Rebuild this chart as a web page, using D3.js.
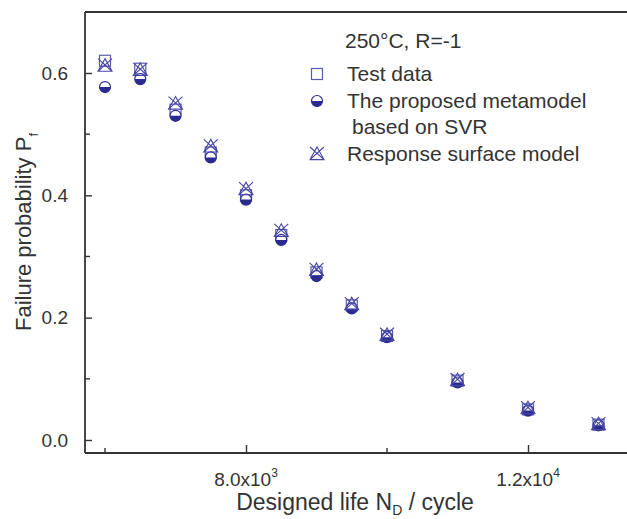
<!DOCTYPE html>
<html><head><meta charset="utf-8">
<script src="https://cdn.jsdelivr.net/npm/d3@7/dist/d3.min.js"></script>
<style>body{margin:0;background:#fff}svg{display:block}text{font-family:"Liberation Sans",Arial,sans-serif;fill:#333}</style>
</head><body><svg id="c" width="627" height="519"></svg>
<script>
const cycles = [6000, 6500, 7000, 7500, 8000, 8500, 9000, 9500, 10000, 11000, 12000, 13000];
const testData = [0.620, 0.607, 0.540, 0.470, 0.400, 0.335, 0.274, 0.220, 0.170, 0.097, 0.050, 0.025];
const svrModel = [0.577, 0.590, 0.530, 0.462, 0.393, 0.327, 0.268, 0.215, 0.168, 0.094, 0.048, 0.024];
const rsmModel = [0.612, 0.605, 0.550, 0.480, 0.410, 0.342, 0.278, 0.222, 0.172, 0.098, 0.052, 0.026];
const xTicks = [8000, 12000];
const xMinor = [6000, 10000];
const xTickLabels = ["8.0x10", "1.2x10"];
const xTickExp = ["3", "4"];
const yTicks = [0.0, 0.2, 0.4, 0.6];
const yMinor = [0.1, 0.3, 0.5];

const svg = d3.select("#c");
const L = 85, R = 640, T = 12, B = 453;
const x = d3.scaleLinear().domain([5716, 13000 + (640-598.5)/141*2000]).range([L, R]);
const y = d3.scaleLinear().domain([-0.0213, 0.6997]).range([B, T]);
const blue = "#2b2b8f";
const axCol = "#333";

// frame
svg.append("line").attr("x1", L).attr("x2", 627).attr("y1", T).attr("y2", T).attr("stroke", axCol).attr("stroke-width", 1.8);
svg.append("line").attr("x1", L).attr("x2", L).attr("y1", T).attr("y2", B).attr("stroke", axCol).attr("stroke-width", 1.8);
svg.append("line").attr("x1", L).attr("x2", 627).attr("y1", B).attr("y2", B).attr("stroke", axCol).attr("stroke-width", 1.8);

// y axis
const yAx = svg.append("g").attr("transform", `translate(${L},0)`)
  .call(d3.axisLeft(y).tickValues(yTicks).tickFormat(d3.format(".1f")).tickSize(-7).tickPadding(17));
yAx.select(".domain").remove();
yAx.selectAll("line").attr("stroke", axCol).attr("stroke-width", 1.4);
yAx.selectAll("text").attr("font-size", 19).style("fill", "#333");
svg.append("g").selectAll("line").data(yMinor).join("line")
  .attr("x1", L).attr("x2", L + 5).attr("y1", d => y(d)).attr("y2", d => y(d)).attr("stroke", axCol).attr("stroke-width", 1.4);

// x axis
const xAx = svg.append("g").attr("transform", `translate(0,${B})`)
  .call(d3.axisBottom(x).tickValues(xTicks).tickFormat("").tickSize(-8));
xAx.select(".domain").remove();
xAx.selectAll("line").attr("stroke", axCol).attr("stroke-width", 1.4);
svg.append("g").selectAll("line").data(xMinor).join("line")
  .attr("x1", d => x(d)).attr("x2", d => x(d)).attr("y1", B).attr("y2", B - 5).attr("stroke", axCol).attr("stroke-width", 1.4);
xTicks.forEach((t, i) => {
  const tx = svg.append("text").attr("x", x(t)).attr("y", 486).attr("text-anchor", "middle").attr("font-size", 19);
  tx.append("tspan").text(xTickLabels[i]);
  tx.append("tspan").attr("dy", -9).attr("font-size", 12).text(xTickExp[i]);
});

// axis titles
const xt = svg.append("text").attr("x", 355).attr("y", 510).attr("text-anchor", "middle").attr("font-size", 23);
xt.append("tspan").text("Designed life N");
xt.append("tspan").attr("dy", 5).attr("font-size", 14).text("D");
xt.append("tspan").attr("dy", -5).text(" / cycle");
const yt = svg.append("text").attr("transform", "translate(31,232) rotate(-90)").attr("text-anchor", "middle").attr("font-size", 22);
yt.append("tspan").text("Failure probability  P");
yt.append("tspan").attr("dy", 7).attr("font-size", 13).text("f");

// markers
function square(g, cx, cy) {
  g.append("rect").attr("x", cx - 5.5).attr("y", cy - 5.5).attr("width", 11).attr("height", 11)
    .attr("fill", "none").attr("stroke", "#5b5bab").attr("stroke-width", 1.2);
}
function halfCircle(g, cx, cy) {
  const r = 5.5;
  g.append("circle").attr("cx", cx).attr("cy", cy).attr("r", r).attr("fill", "#fff").attr("stroke", blue).attr("stroke-width", 1.2);
  g.append("path").attr("d", `M${cx - r},${cy} A${r},${r} 0 0 0 ${cx + r},${cy} Z`).attr("fill", blue);
}
function triX(g, cx, cy) {
  const s = 7;
  g.append("path").attr("d", `M${cx},${cy - s} L${cx + s},${cy + s * 0.8} L${cx - s},${cy + s * 0.8} Z M${cx - s},${cy - s} L${cx + s},${cy + s * 0.8} M${cx + s},${cy - s} L${cx - s},${cy + s * 0.8}`)
    .attr("fill", "none").attr("stroke", "#4545a5").attr("stroke-width", 1.1);
}

const gT = svg.append("g"), gS = svg.append("g"), gR = svg.append("g");
cycles.forEach((c, i) => {
  square(gT, x(c), y(testData[i]));
  halfCircle(gS, x(c), y(svrModel[i]));
  triX(gR, x(c), y(rsmModel[i]));
});

// legend
svg.append("text").attr("x", 345).attr("y", 48).attr("font-size", 21).text("250°C, R=-1");
square(svg, 317, 74);
svg.append("text").attr("x", 347).attr("y", 81).attr("font-size", 21).text("Test data");
halfCircle(svg, 317, 101);
svg.append("text").attr("x", 347).attr("y", 108).attr("font-size", 21).text("The proposed metamodel");
svg.append("text").attr("x", 352).attr("y", 134).attr("font-size", 21).text("based on SVR");
triX(svg, 317, 154);
svg.append("text").attr("x", 347).attr("y", 161).attr("font-size", 21).text("Response surface model");
</script></body></html>
